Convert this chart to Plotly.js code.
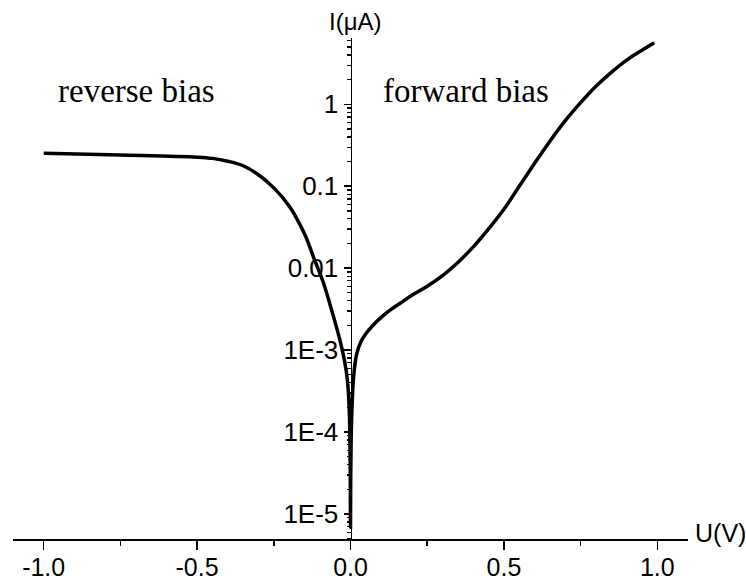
<!DOCTYPE html>
<html>
<head>
<meta charset="utf-8">
<script src="https://cdn.plot.ly/plotly-3.0.1.min.js"></script>
<style>html,body{margin:0;padding:0;background:#fff;}#chart{width:746px;height:582px;}</style>
</head>
<body>
<div id="chart"></div>
<script>
// Voltage (V)
var voltage = [-1.0, -0.75, -0.5, -0.45, -0.4, -0.35, -0.3, -0.25, -0.2, -0.15, -0.12, -0.09, -0.06, -0.035, -0.02, -0.01, -0.005, -0.0023, -0.0008, 0.0,
               0.0008, 0.0023, 0.005, 0.01, 0.02, 0.035, 0.05, 0.075, 0.1, 0.13, 0.163, 0.2, 0.25, 0.3, 0.35, 0.4, 0.45, 0.5, 0.55, 0.6, 0.65, 0.7, 0.75, 0.8, 0.85, 0.9, 0.95, 0.99];
// Current (uA)
var current = [0.2523, 0.2404, 0.2265, 0.2188, 0.2018, 0.1778, 0.1380, 0.0955, 0.0575, 0.0263, 0.01349, 0.00692, 0.00295, 0.001349, 0.000759, 0.000427, 0.000224, 0.000107, 0.0000316, 0.0000069,
               0.0000316, 0.0000891, 0.0002, 0.000468, 0.000891, 0.001288, 0.001585, 0.00204, 0.00251, 0.00309, 0.00376, 0.00468, 0.00603, 0.00813, 0.01175, 0.0182, 0.0302, 0.0525, 0.1, 0.1905, 0.355, 0.631, 1.047, 1.66, 2.455, 3.467, 4.571, 5.623];

var xTickVals = [-1.0, -0.5, 0.0, 0.5, 1.0];
var xTickText = ["-1.0", "-0.5", "0.0", "0.5", "1.0"];
var xMinorVals = [-0.75, -0.25, 0.25, 0.75];
var yTickVals = [1e-5, 1e-4, 1e-3, 0.01, 0.1, 1];
var yTickText = ["1E-5", "1E-4", "1E-3", "0.01", "0.1", "1"];
var yMinorDigits = [2, 3, 4, 5, 6, 7, 8, 9];
var yDecades = [1e-6, 1e-5, 1e-4, 1e-3, 0.01, 0.1, 1];

var yMinorVals = [];
yDecades.forEach(function (d) { yMinorDigits.forEach(function (k) { yMinorVals.push(d * k); }); });

var sans = "'Liberation Sans', Arial, sans-serif";
var serif = "'Liberation Serif', 'Times New Roman', serif";

var trace = {
  x: voltage, y: current, type: 'scatter', mode: 'lines',
  line: {color: '#000', width: 3.5, shape: 'spline', smoothing: 1},
  hoverinfo: 'skip'
};

var layout = {
  width: 746, height: 582,
  margin: {l: 13, r: 58, t: 38, b: 43, pad: 0},
  paper_bgcolor: '#fff', plot_bgcolor: '#fff',
  showlegend: false,
  xaxis: {
    range: [-1.1, 1.1], showgrid: false, zeroline: false,
    showline: true, linecolor: '#000', linewidth: 2,
    ticks: 'outside', ticklen: 9, tickwidth: 1.5, tickcolor: '#000',
    tickmode: 'array', tickvals: xTickVals, ticktext: xTickText,
    ticklabelstandoff: -4,
    tickfont: {family: sans, size: 25, color: '#000'},
    minor: {tickmode: 'array', tickvals: xMinorVals, ticks: 'outside', ticklen: 5, tickwidth: 1.5, tickcolor: '#000'}
  },
  yaxis: {
    type: 'log', range: [-5.305, 0.809], showgrid: false, zeroline: false,
    anchor: 'free', position: 0.5,
    showline: true, linecolor: '#000', linewidth: 1.5,
    ticks: 'outside', ticklen: 7, tickwidth: 1.5, tickcolor: '#000',
    tickmode: 'array', tickvals: yTickVals, ticktext: yTickText,
    tickfont: {family: sans, size: 26, color: '#000'},
    minor: {tickmode: 'array', tickvals: yMinorVals, ticks: 'outside', ticklen: 4, tickwidth: 1.2, tickcolor: '#000'}
  },
  annotations: [
    {text: 'U(V)', xref: 'paper', yref: 'paper', x: 1.007, y: 0.012, xanchor: 'left', yanchor: 'middle', showarrow: false,
     font: {family: sans, size: 25, color: '#000'}},
    {text: 'I(\u03bcA)', xref: 'paper', yref: 'paper', x: 0.508, y: 1.032, xanchor: 'center', yanchor: 'middle', showarrow: false,
     font: {family: sans, size: 24, color: '#000'}},
    {text: 'reverse bias', xref: 'paper', yref: 'paper', x: 0.064, y: 0.894, xanchor: 'left', yanchor: 'middle', showarrow: false,
     font: {family: serif, size: 33, color: '#000'}},
    {text: 'forward bias', xref: 'paper', yref: 'paper', x: 0.545, y: 0.894, xanchor: 'left', yanchor: 'middle', showarrow: false,
     font: {family: serif, size: 33, color: '#000'}}
  ]
};

Plotly.newPlot('chart', [trace], layout, {displayModeBar: false, staticPlot: true});
</script>
</body>
</html>
